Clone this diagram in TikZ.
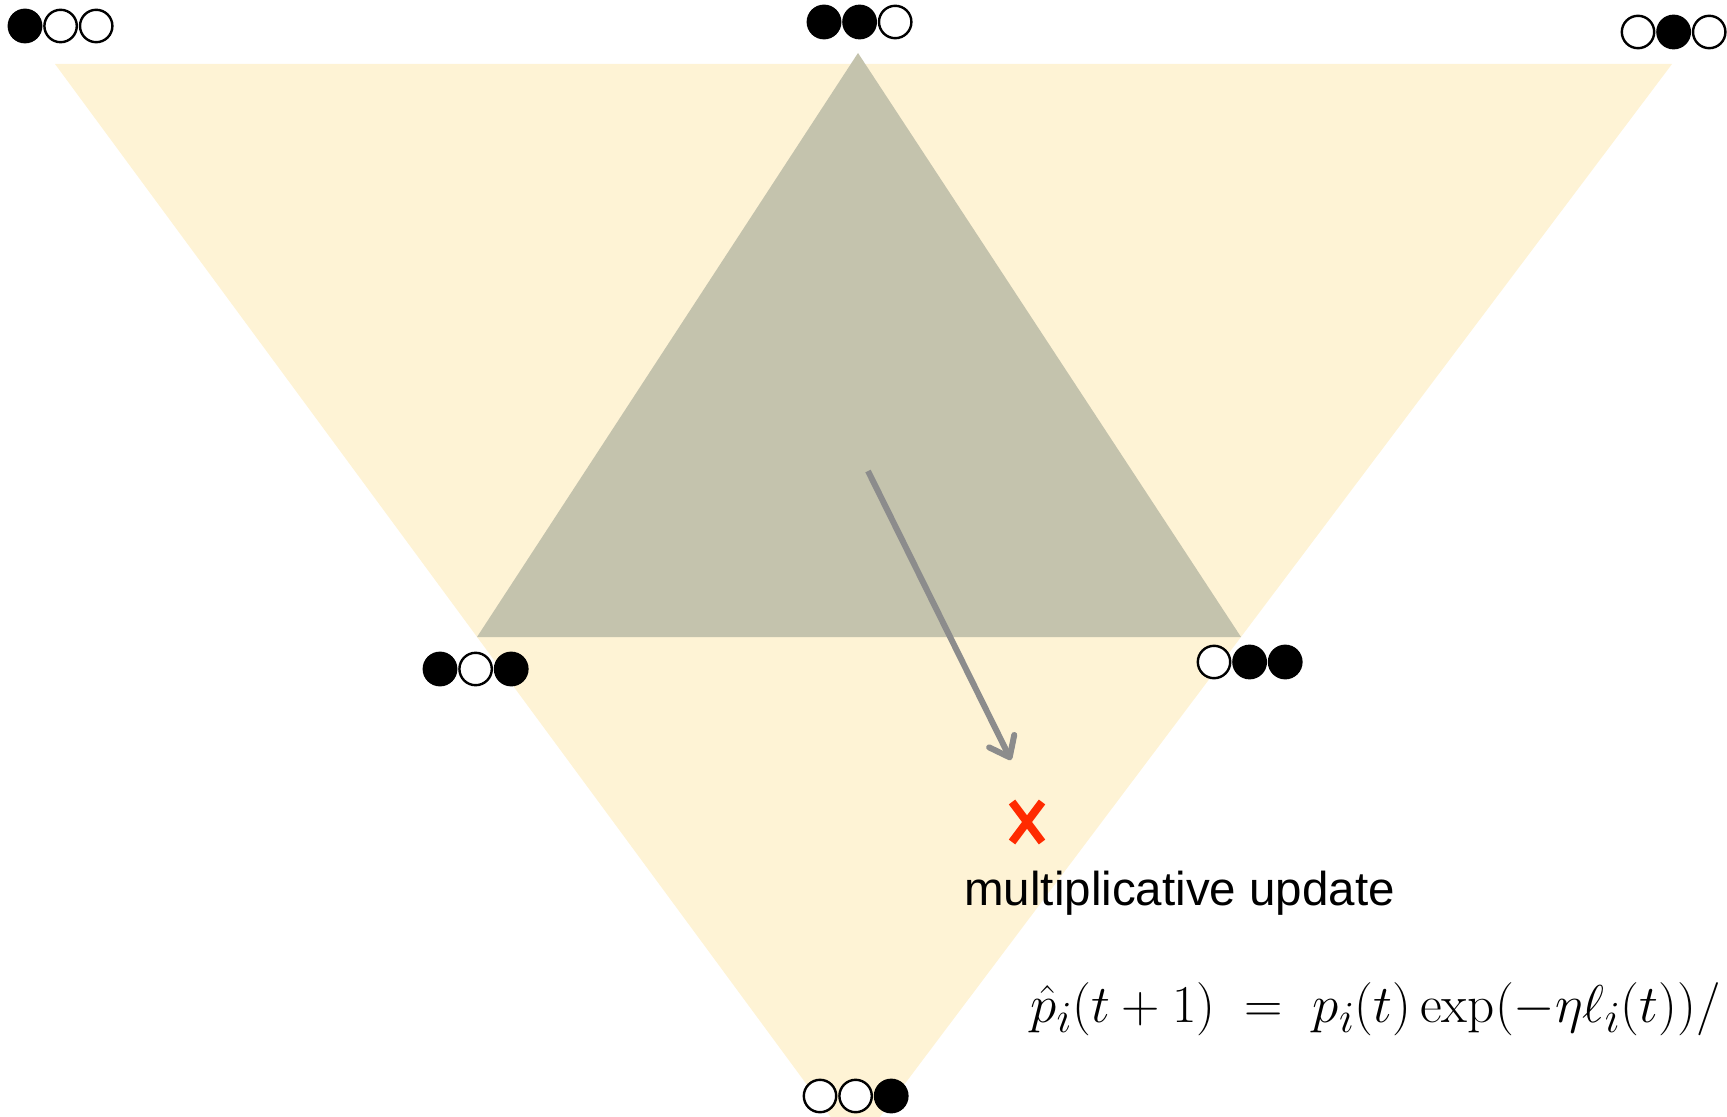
\documentclass[tikz,border=0pt]{standalone}
\usepackage{graphicx}
\usepackage{fontspec}
\newfontfamily\arialfont{Liberation Sans}
\usetikzlibrary{positioning,arrows.meta,shapes.misc}
\definecolor{simplexfill}{HTML}{FEF3D5}
\definecolor{feasfill}{HTML}{C4C3AD}
\definecolor{stepgrey}{HTML}{8C8C8C}
\definecolor{crossred}{HTML}{FF2A00}
\begin{document}
\begin{tikzpicture}[x=0.5pt, y=-0.5pt,
  ball/.style={circle, draw, line width=1.2pt, minimum size=16.2pt, inner sep=0pt},
  fullball/.style={ball, fill=black},
  emptyball/.style={ball, fill=white}]
\useasboundingbox (0,0) rectangle (1727,1117);
% the two triangles
\coordinate (s1) at (55,64);
\coordinate (s2) at (1672,64);
\coordinate (s3) at (855,1150);
\coordinate (g1) at (858,53);
\coordinate (g2) at (477,637);
\coordinate (g3) at (1241,637);
\fill[simplexfill] (s1) -- (s2) -- (s3) -- cycle;
\fill[feasfill] (g1) -- (g2) -- (g3) -- cycle;
% vertex labels
\node[fullball] (tl1) at (25,26) {};
\node[emptyball, right=0.4pt of tl1] (tl2) {};
\node[emptyball, right=0.4pt of tl2] (tl3) {};
\node[fullball] (tm1) at (824,22) {};
\node[fullball, right=0.4pt of tm1] (tm2) {};
\node[emptyball, right=0.4pt of tm2] (tm3) {};
\node[emptyball] (tr1) at (1638,32) {};
\node[fullball, right=0.4pt of tr1] (tr2) {};
\node[emptyball, right=0.4pt of tr2] (tr3) {};
\node[fullball] (ml1) at (440,669) {};
\node[emptyball, right=0.4pt of ml1] (ml2) {};
\node[fullball, right=0.4pt of ml2] (ml3) {};
\node[emptyball] (mr1) at (1214,662) {};
\node[fullball, right=0.4pt of mr1] (mr2) {};
\node[fullball, right=0.4pt of mr2] (mr3) {};
\node[emptyball] (bm1) at (820,1096) {};
\node[emptyball, right=0.4pt of bm1] (bm2) {};
\node[fullball, right=0.4pt of bm2] (bm3) {};
% update step
\coordinate (start) at (868,471);
\coordinate (target) at (1011,760);
\draw[stepgrey, line width=3pt, -{Straight Barb[length=9pt, width=14pt, line cap=round, line join=round]}] (start) -- (target);
\node[cross out, draw=crossred, line width=4pt, minimum width=11pt, minimum height=16pt, inner sep=0pt] (upd) at (1027,822) {};
\node[anchor=base west, inner sep=0pt, font=\arialfont\fontsize{23.75}{28}\selectfont] (lbl) at (964,905) {multiplicative update};
\node[anchor=base west, inner sep=0pt, font=\fontsize{24.88}{30}\selectfont] (rule) at (1030,1022)
  {\scalebox{1.07}{$\hat{p}_i(t+1)\;=\;p_i(t)\exp(-\eta\ell_i(t))/$}};
\end{tikzpicture}
\end{document}
